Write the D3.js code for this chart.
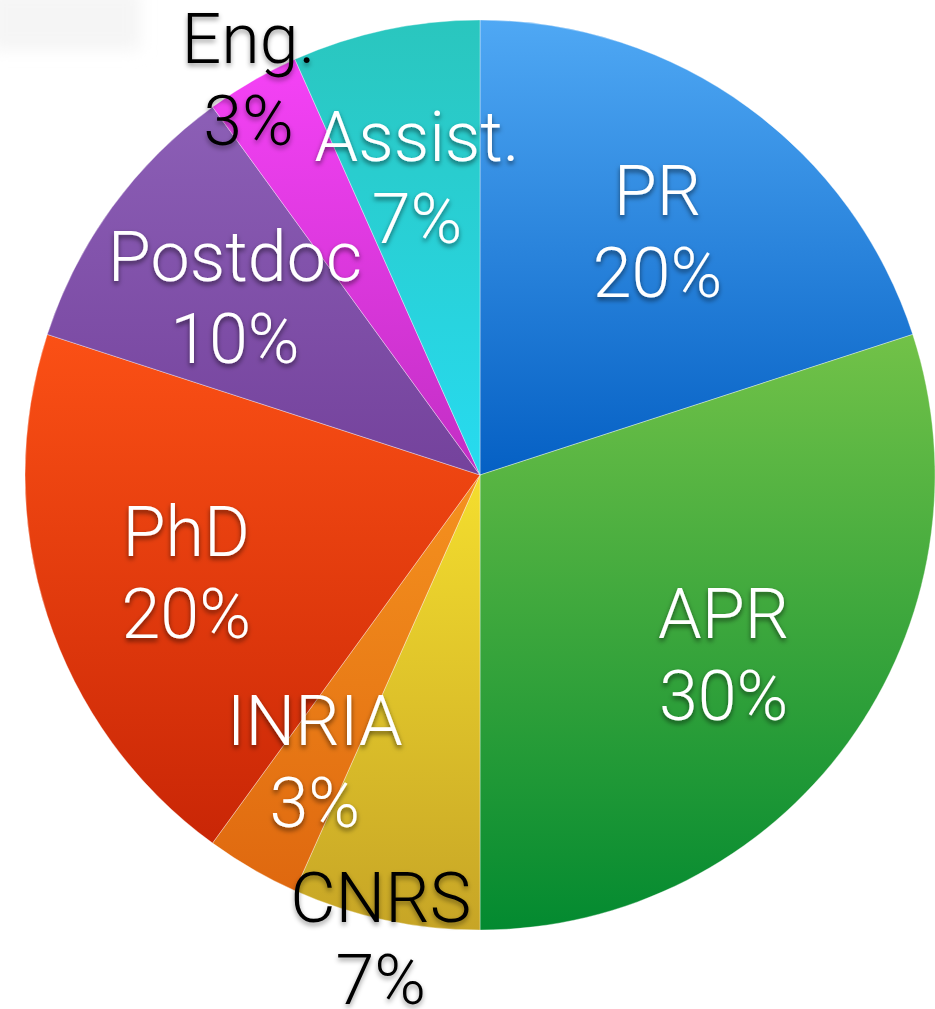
<!DOCTYPE html>
<html>
<head>
<meta charset="utf-8">
<script src="https://cdn.jsdelivr.net/npm/d3@7"></script>
<style>
  html, body { margin: 0; padding: 0; background: #ffffff; }
  svg { display: block; }
</style>
</head>
<body>
<div id="chart"></div>
<script>
// ---- data ----
const categories = ["PR", "APR", "CNRS", "INRIA", "PhD", "Postdoc", "Eng.", "Assist."];
const counts     = [6, 9, 2, 1, 6, 3, 1, 2];
const percentLabels = ["20%", "30%", "7%", "3%", "20%", "10%", "3%", "7%"];

// ---- style ----
const W = 935, H = 1009;
const cx = 480, cy = 475, R = 455;
const topColors    = ["#4fa8f4", "#72c248", "#f4de2e", "#f5921f", "#fb5015", "#8c5fb6", "#f542f6", "#2ac6be"];
const bottomColors = ["#0560c4", "#038a30", "#c7a526", "#df680f", "#c92606", "#74429c", "#c22ec4", "#27dbf0"];
const labelRadius  = { "PR": 282, "APR": 318, "CNRS": 498, "INRIA": 352, "PhD": 318, "Postdoc": 289, "Eng.": 437, "Assist.": 280 };
const labelAngleShift = { "PR": 3, "APR": 4, "CNRS": -0.5, "INRIA": -2, "PhD": -4.5, "Postdoc": -4, "Eng.": -2, "Assist.": -1 };
const outsideLabels = new Set(["CNRS", "Eng."]);

const svg = d3.select("#chart").append("svg")
  .attr("width", W).attr("height", H);

const defs = svg.append("defs");

// faint blurred artifact top-left
const blur = defs.append("filter").attr("id", "fog").attr("x", "-50%").attr("y", "-50%").attr("width", "200%").attr("height", "200%");
blur.append("feGaussianBlur").attr("stdDeviation", 8);
svg.append("rect").attr("x", -10).attr("y", -10).attr("width", 150).attr("height", 60)
  .attr("fill", "#f5f5f5").attr("filter", "url(#fog)");

categories.forEach((c, i) => {
  const g = defs.append("linearGradient").attr("id", "grad" + i)
    .attr("x1", 0).attr("y1", 0).attr("x2", 0).attr("y2", 1);
  g.append("stop").attr("offset", "0%").attr("stop-color", topColors[i]);
  g.append("stop").attr("offset", "100%").attr("stop-color", bottomColors[i]);
});

const shW = defs.append("filter").attr("id", "shadowW").attr("x", "-20%").attr("y", "-30%").attr("width", "140%").attr("height", "160%");
shW.append("feDropShadow").attr("dx", 0).attr("dy", 3).attr("stdDeviation", 2.5)
  .attr("flood-color", "#000").attr("flood-opacity", 0.55);
const shB = defs.append("filter").attr("id", "shadowB").attr("x", "-20%").attr("y", "-30%").attr("width", "140%").attr("height", "160%");
shB.append("feDropShadow").attr("dx", 0).attr("dy", 3).attr("stdDeviation", 2.5)
  .attr("flood-color", "#000").attr("flood-opacity", 0.4);

const data = categories.map((c, i) => ({ cat: c, value: counts[i], pct: percentLabels[i], idx: i }));

const pie = d3.pie().value(d => d.value).sort(null);
const arcs = pie(data);
const arc = d3.arc().innerRadius(0).outerRadius(R);

const g = svg.append("g").attr("transform", `translate(${cx},${cy})`);

g.selectAll("path.slice").data(arcs).join("path")
  .attr("class", "slice")
  .attr("d", arc)
  .attr("fill", d => `url(#grad${d.data.idx})`)
  .attr("stroke", "rgba(255,255,255,0.35)")
  .attr("stroke-width", 1);

const font = "Roboto, 'Helvetica Neue', Arial, sans-serif";
const labels = g.selectAll("g.label").data(arcs).join("g")
  .attr("class", "label")
  .attr("transform", d => {
    const lr = labelRadius[d.data.cat];
    const shift = labelAngleShift[d.data.cat] * Math.PI / 180;
    const la = d3.arc().innerRadius(lr).outerRadius(lr)
      .startAngle(d.startAngle + shift).endAngle(d.endAngle + shift);
    const [x, y] = la.centroid();
    return `translate(${x},${y})`;
  })
  .attr("filter", d => outsideLabels.has(d.data.cat) ? "url(#shadowB)" : "url(#shadowW)");

labels.each(function(d) {
  const sel = d3.select(this);
  const fill = outsideLabels.has(d.data.cat) ? "#000000" : "#ffffff";
  [d.data.cat, d.data.pct].forEach((t, k) => {
    sel.append("text")
      .attr("x", 0)
      .attr("y", k === 0 ? -41 : 41)
      .attr("text-anchor", "middle")
      .attr("font-family", font)
      .attr("font-weight", 300)
      .attr("font-size", 70)
      .attr("fill", fill)
      .text(t);
  });
});
</script>
</body>
</html>
